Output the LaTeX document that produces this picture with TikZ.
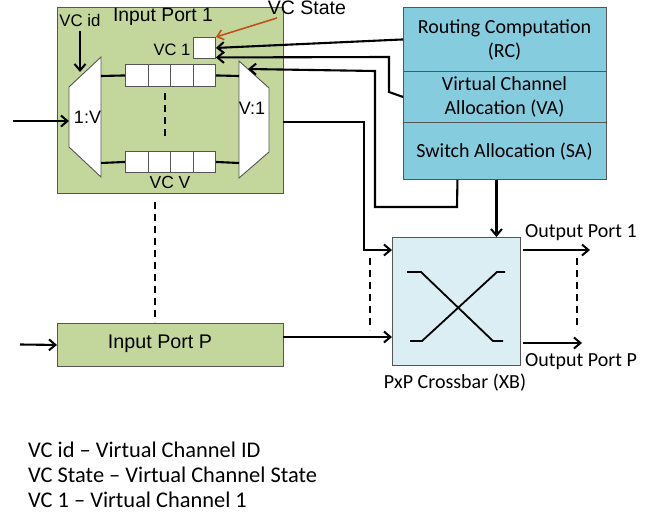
\documentclass[tikz,border=0pt]{standalone}
\usepackage{fontspec}
\setmainfont{Carlito}
\newfontfamily\arialf{Liberation Sans}
\usetikzlibrary{arrows.meta,calc}
\definecolor{portgreen}{HTML}{C3D69B}
\definecolor{allocblue}{HTML}{86CCDF}
\definecolor{xbblue}{HTML}{DAEEF3}
\definecolor{statebrown}{HTML}{C0501E}
\definecolor{boxedge}{HTML}{555555}
\begin{document}
\begin{tikzpicture}[x=1pt,y=-1pt,
  box/.style={draw=boxedge, line width=0.9pt, inner sep=0pt, anchor=north west},
  cell/.style={draw=boxedge, line width=0.9pt, fill=white, inner sep=0pt, anchor=north west, minimum width=22.5pt, minimum height=22pt},
  trap/.style={draw=boxedge, line width=0.9pt, fill=white},
  wire/.style={line width=2.1pt},
  arr/.style={wire, -{Straight Barb[length=6.5pt,width=11pt,line width=2pt]}},
  dashwire/.style={line width=2.2pt, dash pattern=on 7pt off 5pt},
  atxt/.style={font=\arialf\fontsize{18}{21}\selectfont, inner sep=0pt},
  ctxt/.style={font=\fontsize{20}{24}\selectfont, inner sep=0pt, align=center}
]
\useasboundingbox (0,0) rectangle (655,516);

% Input port boxes
\node[box, fill=portgreen, minimum width=226pt, minimum height=186pt] (ip1) at (57,7) {};
\node[box, fill=portgreen, minimum width=226pt, minimum height=43pt] (ipP) at (57,323) {};
\node[atxt, font=\arialf\fontsize{19.7}{23}\selectfont] (ipPlbl) at (160,344) {Input Port P};

% allocation stack
\node[box, fill=allocblue, minimum width=203pt, minimum height=64pt] (rc) at (403,7) {};
\node[box, fill=allocblue, minimum width=203pt, minimum height=51pt] (va) at (403,71) {};
\node[box, fill=allocblue, minimum width=203pt, minimum height=57pt] (sa) at (403,122) {};
\node[ctxt] (rclbl) at (504.5,40) {Routing Computation\\(RC)};
\node[ctxt] (valbl) at (504.5,97) {Virtual Channel\\Allocation (VA)};
\node[ctxt] (salbl) at (504.5,152) {Switch Allocation (SA)};

% crossbar
\node[box, fill=xbblue, minimum width=128pt, minimum height=128pt] (xb) at (392,237) {};
\draw[line width=1.8pt] (407,272) -- (421,272) -- (493,341) -- (503,341);
\draw[line width=1.8pt] (410,341) -- (422,341) -- (497,272) -- (505,272);
\node[ctxt] (xblbl) at (455,383) {PxP Crossbar (XB)};
\node[ctxt, anchor=west] (op1) at (525,233) {Output Port 1};
\node[ctxt, anchor=west] (opP) at (525,362) {Output Port P};

% input port 1 internals
\node[atxt, font=\arialf\fontsize{19.3}{23}\selectfont] (ip1lbl) at (163,17) {Input Port 1};
\node[atxt, font=\arialf\fontsize{16.8}{20}\selectfont] (vcid) at (80,20) {VC id};
\node[atxt, font=\arialf\fontsize{16.5}{20}\selectfont] (vc1) at (172,50) {VC 1};
\node[atxt, font=\arialf\fontsize{17.5}{20}\selectfont] (vcv) at (170,182) {VC V};
\node[atxt, font=\arialf\fontsize{19.5}{23}\selectfont] (vcstate) at (307,8) {VC State};
\node[cell, minimum width=22pt, minimum height=21pt] (vcs) at (193,37) {};

\foreach \i in {0,1,2,3} {
  \node[cell] (t\i) at (125+22.5*\i,64) {};
  \node[cell, minimum height=21pt] (b\i) at (125+22.5*\i,151) {};
}

% demux and mux
\draw[trap] (69,87) -- (101,57) -- (101,177) -- (69,147) -- cycle;
\draw[trap] (239,61) -- (269,88) -- (269,152) -- (239,178) -- cycle;
\node[atxt] (dmxlbl) at (87.5,117) {1:V};
\node[atxt] (mxlbl) at (252,108) {V:1};
\coordinate (dmxin) at (69,121);
\coordinate (dmxtop) at (80,72);
\coordinate (mxsel) at (248,69);
\coordinate (dmxo1) at (101,76);
\coordinate (dmxo2) at (101,163);
\coordinate (mxi1) at (239,76);
\coordinate (mxi2) at (239,163);

\draw[wire] (dmxo1) -- (t0.west);
\draw[wire] (t3.east) -- (mxi1);
\draw[wire] (dmxo2) -- (b0.west);
\draw[wire] (b3.east) -- (mxi2);
\draw[dashwire] (165,93) -- (165,137);

\coordinate (in1) at (13,121);
\coordinate (inP) at (20,344.5);
\draw[arr] (in1) -- (dmxin);
\draw[arr] (inP) -- (ipP.west);
\draw[arr] (vcid.south) ++(0,5) -- (dmxtop);
\draw[line width=1.6pt, draw=statebrown, -{Straight Barb[length=6pt,width=10pt,line width=1.6pt]}] (277,18) -- (vcs.north east);

% control connectors
\draw[arr] (rc.west) -- (vcs.east);
\draw[arr] (va.west) -- (389,92) -- (389,57) -- ([yshift=-9.5pt]vcs.east);
\draw[arr] ([xshift=-47.5pt]sa.south) -- (457,207) -- (375,207) -- (375,71) -- (mxsel);
\draw[arr] ([xshift=-8.5pt]sa.south) -- ([xshift=40pt]xb.north);

% data connectors
\draw[arr] (283,122) -- (364,122) -- (364,250) -- (392,250);
\draw[arr] (283,337) -- (392,337);
\coordinate (o1s) at (523,250);
\coordinate (o1e) at (590,250);
\coordinate (oPs) at (523,343);
\coordinate (oPe) at (582,343);
\draw[arr] (o1s) -- (o1e);
\draw[arr] (oPs) -- (oPe);

% dashed ellipsis lines
\draw[dashwire] (155,202) -- (155,322);
\draw[dashwire] (370,258) -- (370,330);
\draw[dashwire] (577,258) -- (577,330);

% legend
\node[anchor=west, align=left, inner sep=0pt, font=\fontsize{22.4}{25}\selectfont] (legend) at (28,475)
  {VC id – Virtual Channel ID\\VC State – Virtual Channel State\\VC 1 – Virtual Channel 1};
\end{tikzpicture}
\end{document}
